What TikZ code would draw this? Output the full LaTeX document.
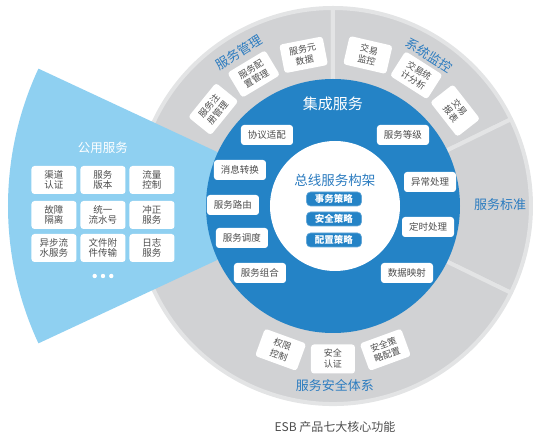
\documentclass[tikz,border=0pt]{standalone}
\usepackage{fontspec}
\setmainfont{Noto Sans CJK SC}
\definecolor{ringgrey}{HTML}{D1D2D4}
\definecolor{rimgrey}{HTML}{E3E4E5}
\definecolor{corebl}{HTML}{2483C6}
\definecolor{fanbl}{HTML}{8FD0F1}
\definecolor{labelbl}{HTML}{2C7CC0}
\definecolor{txtgrey}{HTML}{4D4D4D}
\begin{document}
\begin{tikzpicture}
    [
    x=1pt,y=1pt,
    ring/.style={fill=ringgrey,draw=rimgrey,line width=4pt,line join=round},
    ringbox/.style={rectangle,fill=white,rounded corners=3pt,inner sep=1pt,minimum width=44pt,minimum height=29pt,align=center,text=txtgrey,font=\fontsize{9}{11}\selectfont},
    corebox/.style={rectangle,fill=white,rounded corners=3pt,inner sep=1pt,minimum width=52pt,minimum height=20pt,text=txtgrey,font=\fontsize{9.5}{10}\selectfont},
    pubbox/.style={rectangle,fill=white,rounded corners=3pt,inner sep=1pt,minimum width=45pt,minimum height=28pt,align=center,text=txtgrey,font=\fontsize{9.5}{10.5}\selectfont},
    pill/.style={rectangle,fill=corebl,draw=corebl!70!white,line width=0.6pt,rounded corners=4pt,inner sep=0pt,minimum width=55pt,minimum height=14pt,text=white,font=\fontsize{9.5}{10}\selectfont\bfseries},
    seglabel/.style={text=labelbl,font=\fontsize{13}{13}\selectfont},
    dot/.style={circle,fill=white,inner sep=0pt,minimum size=4.4pt}
    ]
    \useasboundingbox (-333,-232) rectangle (208,206);
    % outer ring
    \filldraw[ring] (90:123) -- (90:198) arc (90:157:198) -- (157:123) arc (157:90:123) -- cycle;
    \filldraw[ring] (26:123) -- (26:198) arc (26:90:198) -- (90:123) arc (90:26:123) -- cycle;
    \filldraw[ring] (-26:123) -- (-26:198) arc (-26:26:198) -- (26:123) arc (26:-26:123) -- cycle;
    \filldraw[ring] (-157:123) -- (-157:198) arc (-157:-26:198) -- (-26:123) arc (-26:-157:123) -- cycle;
    \fill[fanbl] (0,0) -- (155:325) arc (155:205:325) -- cycle;
    \fill[corebl] (0,0) circle (127);
    \fill[white] (2,0) circle (65);
    % ring segments
    \node (r1) at (141:154) [ringbox,rotate=51] {服务注\\册管理};
    \node (r2) at (121:154) [ringbox,rotate=31] {服务配\\置管理};
    \node (r3) at (101:154) [ringbox,rotate=11] {服务元\\数据};
    \node (m1) at (77:155) [ringbox,rotate=-13] {交易\\监控};
    \node (m2) at (57.5:155) [ringbox,rotate=-32.5] {交易统\\计分析};
    \node (m3) at (38:155) [ringbox,rotate=-52] {交易\\报表};
    \node (s1) at (-110:153) [ringbox,rotate=-20] {权限\\控制};
    \node (s2) at (-90:153) [ringbox] {安全\\认证};
    \node (s3) at (-70:153) [ringbox,rotate=20] {安全策\\略配置};
    \node (lr) at (121.5:180) [seglabel,rotate=31.5] {服务管理};
    \node (lm) at (57.5:179) [seglabel,rotate=-32.5] {系统监控};
    \node (ls) at (167,1) [seglabel] {服务标准};
    \node (la) at (2,-179) [seglabel] {服务安全体系};
    % core
    \node (core) at (0,102) [text=white,font=\fontsize{15}{15}\selectfont] {集成服务};
    \node (c1) at (-66,71) [corebox] {协议适配};
    \node (c2) at (70,71) [corebox] {服务等级};
    \node (c3) at (-93,36) [corebox] {消息转换};
    \node (c4) at (-100,1) [corebox] {服务路由};
    \node (c5) at (-91,-32) [corebox] {服务调度};
    \node (c6) at (-73,-67) [corebox] {服务组合};
    \node (c7) at (97,24) [corebox] {异常处理};
    \node (c8) at (95,-21) [corebox] {定时处理};
    \node (c9) at (74,-67) [corebox] {数据映射};
    \node (bus) at (2,26) [text=labelbl,font=\fontsize{13.5}{14}\selectfont] {总线服务构架};
    \node (p1) at (1,7) [pill] {事务策略};
    \node (p2) at (1,-13) [pill] {安全策略};
    \node (p3) at (1,-34) [pill] {配置策略};
    % public services
    \node (pub) at (-230,58) [text=white,font=\fontsize{12.5}{13}\selectfont] {公用服务};
    \node (u1) at (-279,26) [pubbox] {渠道\\认证};
    \node (u2) at (-230,26) [pubbox] {服务\\版本};
    \node (u3) at (-181,26) [pubbox] {流量\\控制};
    \node (u4) at (-279,-9) [pubbox] {故障\\隔离};
    \node (u5) at (-230,-9) [pubbox] {统一\\流水号};
    \node (u6) at (-181,-9) [pubbox] {冲正\\服务};
    \node (u7) at (-279,-42) [pubbox] {异步流\\水服务};
    \node (u8) at (-230,-42) [pubbox] {文件附\\件传输};
    \node (u9) at (-181,-42) [pubbox] {日志\\服务};
    \node (d1) at (-238.3,-70) [dot] {};
    \node (d2) at (-230,-70) [dot] {};
    \node (d3) at (-221.7,-70) [dot] {};
    \node (cap) at (2,-221) [text=txtgrey,font=\fontsize{12}{12}\selectfont] {ESB 产品七大核心功能};
  \end{tikzpicture}
\end{document}
